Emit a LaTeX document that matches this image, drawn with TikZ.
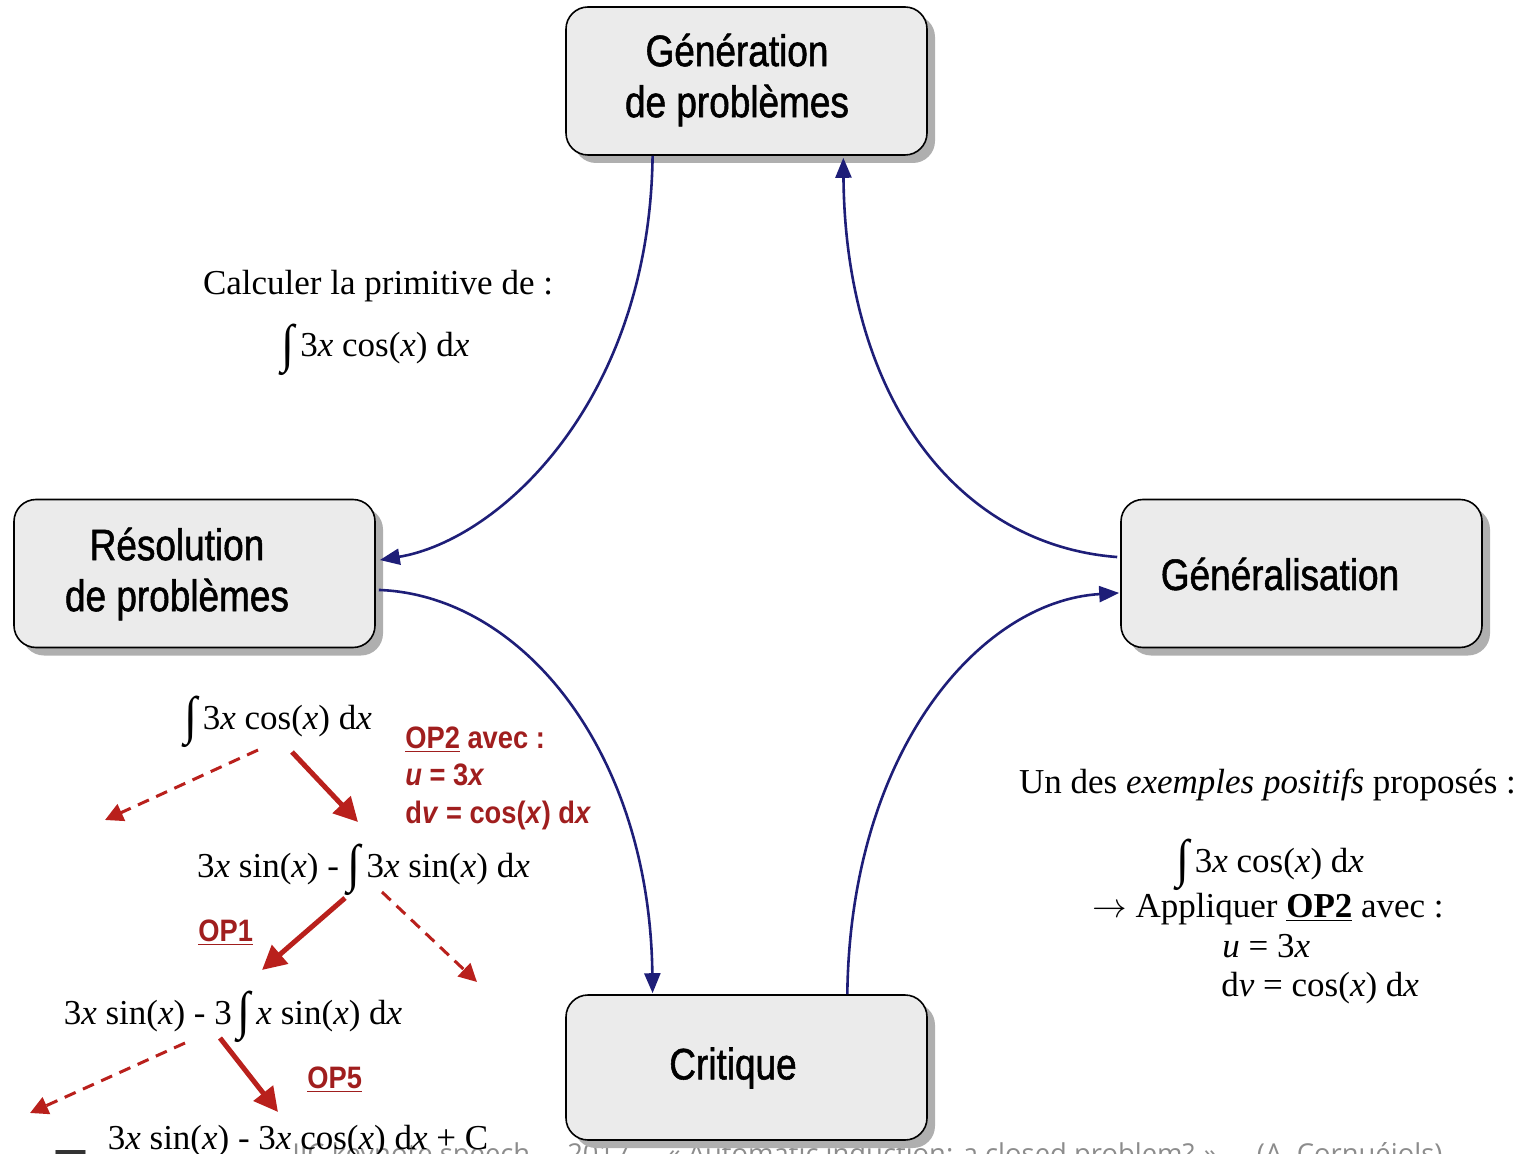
\documentclass[tikz,border=0pt]{standalone}
\usepackage{fontspec}
\usepackage{graphicx}
\setmainfont{Liberation Serif}
\newfontfamily\boxfont[FakeStretch=0.84,FakeBold=1.2]{Liberation Sans}
\newfontfamily\redfont[FakeStretch=0.88]{Liberation Sans}
\newfontfamily\footfont{Open Sans}
\usetikzlibrary{arrows.meta,calc,shadows}
\definecolor{boxfill}{RGB}{235,235,235}
\definecolor{shadowgray}{RGB}{175,175,175}
\definecolor{navy}{RGB}{30,30,120}
\definecolor{opred}{RGB}{185,32,28}
\definecolor{optext}{RGB}{160,30,30}
\definecolor{footgray}{RGB}{140,140,140}
\newcommand{\Int}{\raisebox{-0.3ex}{\scalebox{1.35}[1.5]{∫}}}
\newcommand{\vx}{\textit{x}}
\tikzset{
  procbox/.style={draw=black, line width=0.8pt, fill=boxfill, rounded corners=11pt,
    minimum width=180.5pt, minimum height=74pt, inner sep=0pt,
    drop shadow={shadow xshift=4pt, shadow yshift=-4pt, fill=shadowgray, opacity=1}},
  boxtext/.style={font=\boxfont\fontsize{22}{25.5}\selectfont, align=center, inner sep=0pt},
  flow/.style={draw=navy, line width=1.3pt, -{Triangle[length=10pt,width=8pt]}},
  serif/.style={font=\fontsize{17.5}{21}\selectfont, inner sep=0pt, anchor=base},
  optxt/.style={font=\redfont\bfseries\fontsize{15.5}{18}\selectfont, text=optext, inner sep=0pt, anchor=base west},
  opstep/.style={draw=opred, line width=2.5pt, -{Triangle[length=12pt,width=12pt]}},
  opalt/.style={draw=opred, line width=1.5pt, dash pattern=on 6pt off 4pt, -{Triangle[length=9pt,width=9pt]}},
}
\begin{document}
\begin{tikzpicture}[x=0.5pt, y=-0.5pt]
\useasboundingbox (0,0) rectangle (1519,1154);
% footer fragment (clipped at the bottom edge)
\begin{scope}
  \clip (0,0) rectangle (1519,1154);
  \node[font=\footfont\fontsize{13.7}{16}\selectfont, text=footgray, anchor=base west, inner sep=0pt] (foot) at (292,1163)
    {IJC keynote speech \,–\, 2017 \,–\, « Automatic induction: a closed problem? » \,–\, (A. Cornuéjols)};
  \node[font=\footfont\fontsize{28}{30}\selectfont, text=black!80, anchor=base west, inner sep=0pt] (bul) at (20,1190) {• T};
\end{scope}

% boxes
\node[procbox] (gen) at (746.5,81) {};
\node[procbox] (res) at (194.5,573.5) {};
\node[procbox] (gnl) at (1301.5,573.5) {};
\node[procbox, minimum height=72.5pt] (cri) at (746.5,1067.5) {};
\node[boxtext] (genT) at (737,80) {Génération\\de problèmes};
\node[boxtext] (resT) at (177,574) {Résolution\\de problèmes};
\node[boxtext] (gnlT) at (1280,574) {Généralisation};
\node[boxtext] (criT) at (733,1068) {Critique};

% cycle connectors
\draw[flow] ($(gen.south west)!0.241!(gen.south east)$) .. controls +(-3,245) and +(120,-20) .. ($(res.north east)!0.41!(res.south east)+(4,0)$);
\draw[flow] ($(gnl.north west)!0.39!(gnl.south west)+(-3,0)$) .. controls +(-158,-12) and +(2,243) .. ($(gen.south west)!0.767!(gen.south east)+(0,2)$);
\draw[flow] ($(res.north east)!0.61!(res.south east)+(3,0)$) .. controls +(142,5) and +(-3,-243) .. ($(cri.north west)!0.241!(cri.north east)+(0,-1)$);
\draw[flow] ($(cri.north west)!0.778!(cri.north east)$) .. controls +(3,-245) and +(-138,8) .. ($(gnl.north west)!0.63!(gnl.south west)+(-1,0)$);

% problem statement
\node[serif] (calc) at (378,295) {Calculer la primitive de :};
\node[serif] (prim) at (375.5,357) {\Int\,3\vx\ cos(\vx) d\vx};

% left solution tree
\node[serif] (f1) at (278,729) {\Int\,3\vx\ cos(\vx) d\vx};
\node[serif] (f2) at (363.5,877) {3\vx\ sin(\vx) - \Int\,3\vx\ sin(\vx) d\vx};
\node[serif] (f3) at (233,1024) {3\vx\ sin(\vx) - 3\,\Int\,\vx\ sin(\vx) d\vx};
\node[serif] (f4) at (298,1149) {3\vx\ sin(\vx) - 3\vx\ cos(\vx) d\vx{} + C};

\node[optxt] (op2a) at (405,748) {\underline{OP2} avec :};
\node[optxt] (op2b) at (405,785) {\textit{u} = 3\textit{x}};
\node[optxt] (op2c) at (405,823) {d\textit{v} = cos(\textit{x}) d\textit{x}};
\node[optxt] (op1) at (198,941) {\underline{OP1}};
\node[optxt] (op5) at (307,1088) {\underline{OP5}};

\coordinate (a1s) at (258,750); \coordinate (a1e) at (105,820);
\coordinate (a2s) at (292,752); \coordinate (a2e) at (358,822);
\coordinate (a3s) at (345,898); \coordinate (a3e) at (262,970);
\coordinate (a4s) at (382,892); \coordinate (a4e) at (477,982);
\coordinate (a5s) at (185,1043); \coordinate (a5e) at (30,1113);
\coordinate (a6s) at (220,1038); \coordinate (a6e) at (278,1112);
\draw[opalt] (a1s) -- (a1e);
\draw[opstep] (a2s) -- (a2e);
\draw[opstep] (a3s) -- (a3e);
\draw[opalt] (a4s) -- (a4e);
\draw[opalt] (a5s) -- (a5e);
\draw[opstep] (a6s) -- (a6e);

% positive example
\node[serif] (ex0) at (1267.5,793) {Un des \textit{exemples positifs} proposés :};
\node[serif] (ex1) at (1270,872) {\Int\,3\vx\ cos(\vx) d\vx};
\node[serif] (ex2) at (1268,917) {\(\rightarrow\) Appliquer \underline{\textbf{OP2}} avec :};
\node[serif, anchor=base west] (ex3) at (1222,957) {\textit{u} = 3\vx};
\node[serif, anchor=base west] (ex4) at (1221,996) {d\textit{v} = cos(\vx) d\vx};
\end{tikzpicture}
\end{document}
